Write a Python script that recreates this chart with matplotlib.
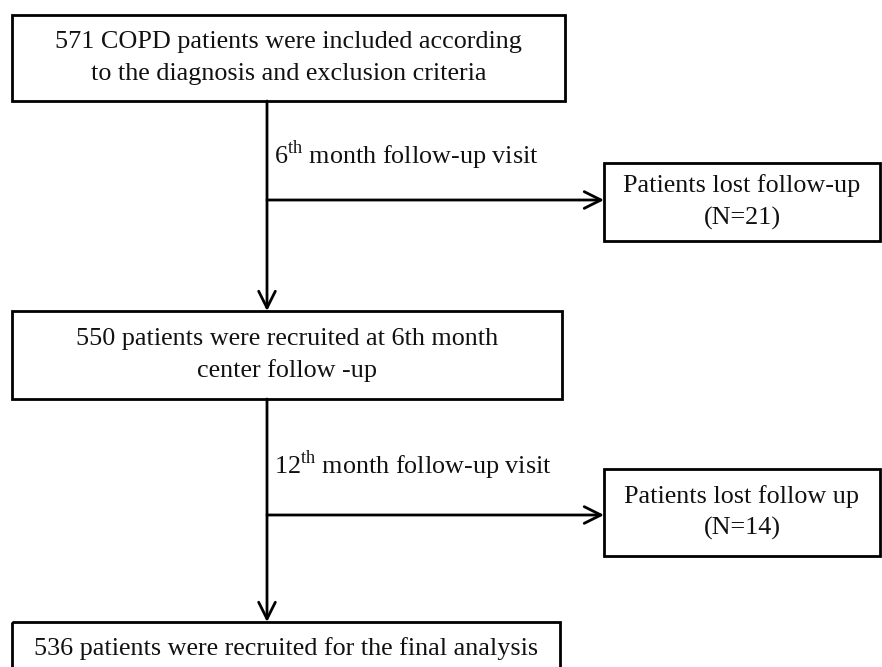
import matplotlib.pyplot as plt
from matplotlib.patches import Rectangle

plt.rcParams['font.family'] = ['Liberation Serif', 'DejaVu Serif']
plt.rcParams['mathtext.fontset'] = 'custom'
plt.rcParams['mathtext.rm'] = 'Liberation Serif'

# texts of the flow chart
main_texts = [
    "571 COPD patients were included according\nto the diagnosis and exclusion criteria",
    "550 patients were recruited at 6th month\ncenter follow -up",
    "536 patients were recruited for the final analysis",
]
side_texts = [
    "Patients lost follow-up\n(N=21)",
    "Patients lost follow up\n(N=14)",
]
step_labels = [
    "6$^{\\mathrm{th}}$ month follow-up visit",
    "12$^{\\mathrm{th}}$ month follow-up visit",
]

# layout in pixels (x0, y0, x1, y1), y measured from top
main_boxes = [(12, 15, 565, 101), (12, 311, 562, 399), (12, 622, 560, 700)]
side_boxes = [(604, 163, 880, 241), (604, 469, 880, 556)]
branch_y = [200, 515]
label_y = [155, 465]
trunk_x = 267

fig = plt.figure(figsize=(8.82, 6.67), dpi=100)
ax = fig.add_axes([0, 0, 1, 1])
ax.set_xlim(0, 882)
ax.set_ylim(667, 0)
ax.axis('off')

lw = 2.0
fs = 18.8

def draw_box(box, text, text_y=None):
    x0, y0, x1, y1 = box
    ax.add_patch(Rectangle((x0, y0), x1 - x0, y1 - y0, fill=False,
                           edgecolor='black', linewidth=lw))
    cy = (y0 + y1) / 2 if text_y is None else text_y
    ax.text((x0 + x1) / 2, cy, text, ha='center', va='center',
            fontsize=fs, linespacing=1.55, color='#111111')

draw_box(main_boxes[0], main_texts[0])
draw_box(main_boxes[1], main_texts[1])
draw_box(main_boxes[2], main_texts[2], text_y=649)
for b, t in zip(side_boxes, side_texts):
    draw_box(b, t)

arrow = dict(arrowstyle='->', lw=lw, color='black', mutation_scale=30,
             shrinkA=0, shrinkB=0)

# trunk arrows
for i in range(2):
    top = main_boxes[i][3]
    bottom = main_boxes[i + 1][1]
    ax.annotate('', xy=(trunk_x, bottom), xytext=(trunk_x, top),
                arrowprops=arrow)
    ax.annotate('', xy=(side_boxes[i][0], branch_y[i]),
                xytext=(trunk_x, branch_y[i]), arrowprops=arrow)
    ax.text(trunk_x + 7, label_y[i], step_labels[i], ha='left', va='center',
            fontsize=fs, color='#111111')

fig.savefig('out.png', dpi=100)
